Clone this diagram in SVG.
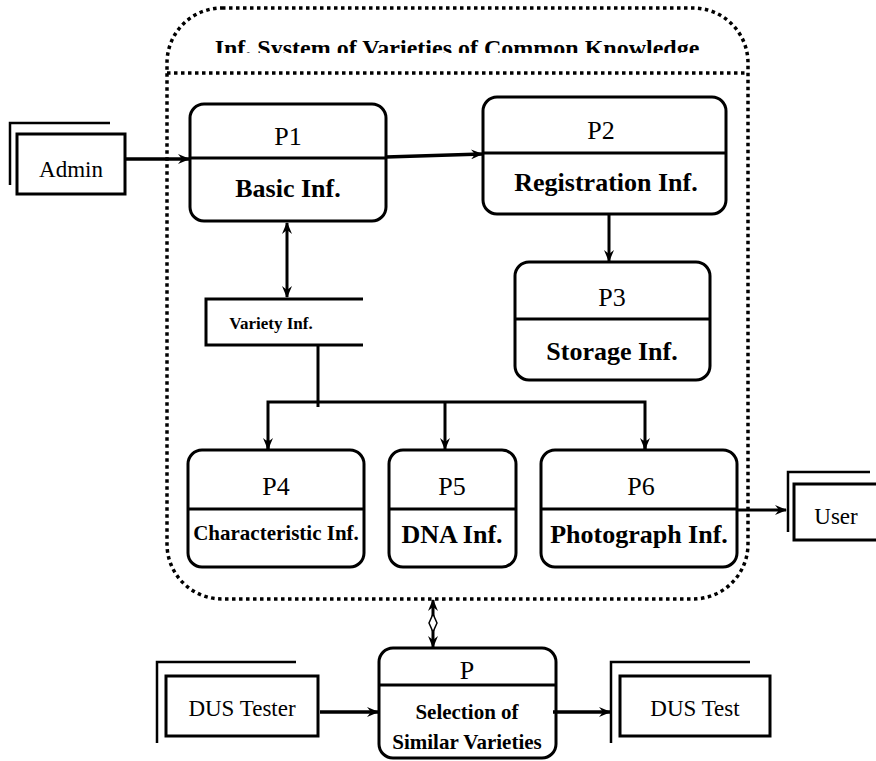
<svg xmlns="http://www.w3.org/2000/svg" width="876" height="761" viewBox="0 0 876 761">
<style>
.box{fill:#fff;stroke:#000;stroke-width:3}
.ln{fill:none;stroke:#000;stroke-width:3}
.thin{fill:none;stroke:#000;stroke-width:2.5}
.dot{fill:none;stroke:#000;stroke-width:3.5;stroke-dasharray:3.5 3.5}
text{font-family:'Liberation Serif','DejaVu Serif',serif;font-size:26px;text-anchor:middle;fill:#000}
.b{font-weight:bold}
.m{font-size:23px}
.s{font-size:21px}
.xs{font-size:17px}
</style>
<defs>
<marker id="ah" viewBox="0 0 12 10" refX="11" refY="5" markerWidth="12" markerHeight="10" markerUnits="userSpaceOnUse" orient="auto-start-reverse">
<path d="M0,0 L12,5 L0,10 L4,5 z" fill="#000"/>
</marker>
<clipPath id="tc"><rect x="0" y="0" width="876" height="53"/></clipPath>
</defs>

<g id="system-boundary">
<rect class="dot" x="167" y="8" width="581" height="591" rx="55" ry="55"/>
<line class="dot" x1="167" y1="73" x2="748" y2="73"/>
<text class="b" x="457" y="56" style="font-size:24px" clip-path="url(#tc)">Inf. System of Varieties of Common Knowledge</text>
</g>

<g id="admin">
<path class="thin" d="M10,185 V123 H110"/>
<rect class="box" x="17" y="134" width="108" height="60"/>
<text class="m" x="71" y="177">Admin</text>
</g>

<g id="p1">
<rect class="box" x="190" y="104" width="196" height="117" rx="14"/>
<line class="ln" x1="190" y1="158" x2="386" y2="158"/>
<text x="288" y="145">P1</text>
<text class="b" x="288" y="197">Basic Inf.</text>
</g>

<g id="p2">
<rect class="box" x="483" y="97" width="243" height="117" rx="14"/>
<line class="ln" x1="483" y1="153" x2="726" y2="153"/>
<text x="601" y="139">P2</text>
<text class="b" x="606" y="191">Registration Inf.</text>
</g>

<g id="p3">
<rect class="box" x="515" y="262" width="195" height="118" rx="14"/>
<line class="ln" x1="515" y1="319" x2="710" y2="319"/>
<text x="612" y="306">P3</text>
<text class="b" x="612" y="360">Storage Inf.</text>
</g>

<g id="variety-inf">
<path class="ln" d="M363,299 H206 V345 H363"/>
<text class="b xs" x="271" y="329">Variety Inf.</text>
</g>

<g id="p4">
<rect class="box" x="188" y="450" width="176" height="117" rx="14"/>
<line class="ln" x1="188" y1="509" x2="364" y2="509"/>
<text x="276" y="495">P4</text>
<text class="b s" x="276" y="540">Characteristic Inf.</text>
</g>

<g id="p5">
<rect class="box" x="389" y="450" width="127" height="117" rx="14"/>
<line class="ln" x1="389" y1="509" x2="516" y2="509"/>
<text x="452" y="495">P5</text>
<text class="b" x="452" y="543">DNA Inf.</text>
</g>

<g id="p6">
<rect class="box" x="541" y="450" width="196" height="117" rx="14"/>
<line class="ln" x1="541" y1="509" x2="737" y2="509"/>
<text x="641" y="495">P6</text>
<text class="b" x="639" y="543">Photograph Inf.</text>
</g>

<g id="user">
<path class="thin" d="M788,532 V472 H870"/>
<rect class="box" x="794" y="484" width="90" height="56"/>
<text class="m" x="836" y="524">User</text>
</g>

<g id="p">
<rect class="box" x="379" y="648" width="177" height="110" rx="14"/>
<line class="ln" x1="379" y1="685" x2="556" y2="685"/>
<text x="467" y="679">P</text>
<text class="b s" x="467" y="719">Selection of</text>
<text class="b s" x="467" y="749">Similar Varieties</text>
</g>

<g id="dus-tester">
<path class="thin" d="M157,743 V662 H296"/>
<rect class="box" x="166" y="676" width="152" height="60"/>
<text class="m" x="242" y="716">DUS Tester</text>
</g>

<g id="dus-test">
<path class="thin" d="M611,743 V662 H750"/>
<rect class="box" x="620" y="676" width="150" height="60"/>
<text class="m" x="695" y="716">DUS Test</text>
</g>

<g id="connectors">
<line class="ln" x1="125" y1="159" x2="189" y2="159" marker-end="url(#ah)" style="stroke-width:3.5"/>
<line class="ln" x1="386" y1="157" x2="482" y2="154" marker-end="url(#ah)" style="stroke-width:3.5"/>
<line class="ln" x1="609" y1="214" x2="609" y2="261" marker-end="url(#ah)"/>
<line class="ln" x1="287" y1="223" x2="287" y2="297" marker-start="url(#ah)" marker-end="url(#ah)"/>
<line class="ln" x1="318" y1="345" x2="318" y2="407"/>
<path class="ln" d="M268,449 V402 H645 V449"/>
<line class="ln" x1="445" y1="402" x2="445" y2="449" marker-end="url(#ah)"/>
<line class="ln" x1="268" y1="440" x2="268" y2="449" marker-end="url(#ah)"/>
<line class="ln" x1="645" y1="440" x2="645" y2="449" marker-end="url(#ah)"/>
<line class="ln" x1="737" y1="510" x2="786" y2="510" marker-end="url(#ah)"/>
<line class="ln" x1="433" y1="600" x2="433" y2="647" marker-start="url(#ah)" marker-end="url(#ah)"/>
<path d="M433,614 L437,623 L433,632 L429,623 z" fill="#fff" stroke="#000" stroke-width="1.5"/>
<line class="ln" x1="320" y1="712" x2="378" y2="712" marker-end="url(#ah)" style="stroke-width:3.5"/>
<line class="ln" x1="553" y1="712" x2="610" y2="712" marker-end="url(#ah)" style="stroke-width:3.5"/>
</g>
</svg>
